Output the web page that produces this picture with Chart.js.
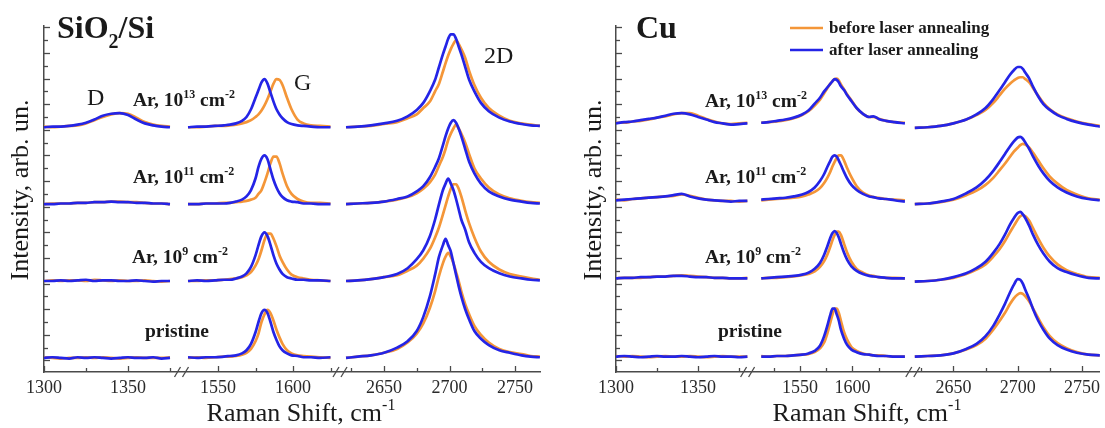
<!DOCTYPE html>
<html>
<head>
<meta charset="utf-8">
<script src="https://cdn.jsdelivr.net/npm/chart.js@4.4.0/dist/chart.umd.min.js"></script>
<style>
  html, body { margin: 0; padding: 0; background: #fff; }
  #wrap { position: relative; width: 1105px; height: 428px; overflow: hidden; }
  #siChart { position: absolute; left: 0; top: 0; }
  #cuChart { position: absolute; left: 560px; top: 0; }
</style>
</head>
<body>
<div id="wrap">
  <canvas id="siChart" width="560" height="428"></canvas>
  <canvas id="cuChart" width="545" height="428"></canvas>
</div>
<script>
// --- data (intensity above each trace's baseline) ---
// sample order: pristine, Ar 10^9, Ar 10^11, Ar 10^13
const seriesNames = ['before laser annealing', 'after laser annealing'];
const seriesColors = ['#F49638', '#2424E6'];

// SiO2/Si panel
const siWnD = [1300, 1305, 1310, 1315, 1320, 1325, 1330, 1335, 1340, 1345, 1350, 1355, 1360, 1365, 1370, 1375];
const siWnG = [1530, 1536, 1542, 1548, 1554, 1558, 1562, 1566, 1569, 1572, 1575, 1577, 1579, 1581, 1583, 1585, 1587, 1589, 1591, 1593, 1596, 1599, 1603, 1607, 1612, 1618, 1625];
const siWn2D = [2621, 2630, 2640, 2650, 2660, 2668, 2675, 2680, 2685, 2689, 2692, 2695, 2697, 2699, 2701, 2703, 2705, 2707, 2709, 2712, 2715, 2719, 2724, 2730, 2738, 2746, 2755, 2762, 2769];

const siBeforeD = [
  [0.05, 0, -0.05, 0, 0, 0.05, 0, 0.05, 0, -0.05, 0, 0.05, 0, 0, 0, 0.05],
  [0, 0.05, 0, 0.05, 0.05, 0, 0.1, 0.05, 0, 0.05, 0, 0, 0.05, 0, -0.05, 0],
  [0, 0.05, 0.05, 0.05, 0.1, 0.1, 0.15, 0.15, 0.2, 0.2, 0.15, 0.15, 0.1, 0.05, 0.05, 0],
  [0.05, 0, 0.05, 0.1, 0.15, 0.3, 0.55, 0.8, 1.0, 1.1, 1.05, 0.75, 0.4, 0.2, 0.1, 0.05]
];
const siAfterD = [
  [0, 0.05, 0, -0.05, 0.05, 0, 0.05, 0, -0.05, 0, 0.05, 0, 0, 0.05, -0.05, 0],
  [0, 0, 0.05, 0, 0.05, 0.1, 0, 0.05, 0.05, 0, 0, 0.05, 0, -0.05, 0, 0],
  [0, 0, 0.05, 0.05, 0.1, 0.1, 0.15, 0.15, 0.2, 0.15, 0.15, 0.1, 0.1, 0.05, 0.05, 0],
  [0, 0.05, 0.05, 0.1, 0.2, 0.35, 0.6, 0.9, 1.05, 1.1, 0.95, 0.6, 0.3, 0.15, 0.05, 0]
];
const siBeforeG = [
  [0, 0.05, 0, 0.05, 0.1, 0.1, 0.15, 0.25, 0.4, 0.7, 1.3, 1.9, 2.8, 3.4, 3.75, 3.5, 2.9, 2.2, 1.6, 1.1, 0.6, 0.35, 0.2, 0.15, 0.1, 0.05, 0],
  [0, 0, 0.05, 0.05, 0.1, 0.15, 0.2, 0.3, 0.45, 0.7, 1.2, 1.7, 2.4, 3.2, 3.7, 3.7, 3.3, 2.7, 2.0, 1.5, 0.9, 0.5, 0.3, 0.2, 0.1, 0.05, 0],
  [0, 0, 0.05, 0.05, 0.1, 0.1, 0.15, 0.2, 0.25, 0.35, 0.5, 0.8, 1.1, 1.7, 2.4, 3.2, 3.7, 3.7, 3.2, 2.4, 1.4, 0.8, 0.4, 0.2, 0.1, 0.1, 0.05],
  [0, 0, 0.05, 0.1, 0.1, 0.15, 0.2, 0.3, 0.4, 0.55, 0.8, 1.0, 1.3, 1.7, 2.2, 2.8, 3.4, 3.75, 3.7, 3.3, 2.3, 1.4, 0.6, 0.3, 0.15, 0.1, 0.05]
];
const siAfterG = [
  [0.05, 0, 0.05, 0.05, 0.1, 0.15, 0.2, 0.35, 0.6, 1.1, 2.0, 2.8, 3.5, 3.75, 3.5, 2.8, 2.0, 1.4, 0.9, 0.6, 0.35, 0.2, 0.15, 0.05, 0.05, 0, 0.05],
  [0, 0.05, 0, 0.05, 0.1, 0.1, 0.2, 0.35, 0.6, 1.1, 2.0, 2.8, 3.5, 3.8, 3.5, 2.8, 2.0, 1.35, 0.9, 0.55, 0.3, 0.2, 0.1, 0.1, 0.05, 0.05, 0],
  [0, 0, 0.05, 0.05, 0.05, 0.1, 0.2, 0.35, 0.6, 1.1, 2.0, 2.9, 3.55, 3.8, 3.5, 2.7, 1.9, 1.3, 0.85, 0.55, 0.3, 0.2, 0.15, 0.05, 0.05, 0, 0],
  [0, 0.05, 0.05, 0.1, 0.15, 0.2, 0.3, 0.5, 0.8, 1.4, 2.3, 2.9, 3.5, 3.75, 3.4, 2.7, 2.0, 1.4, 1.0, 0.7, 0.4, 0.25, 0.15, 0.1, 0.05, 0, 0]
];
const siBefore2D = [
  [0, 0.1, 0.2, 0.4, 0.7, 1.2, 1.9, 2.7, 3.9, 5.2, 6.4, 7.4, 7.9, 8.2, 7.9, 7.4, 6.7, 6.0, 5.2, 4.2, 3.4, 2.5, 1.8, 1.2, 0.7, 0.45, 0.3, 0.15, 0.1],
  [0, 0.05, 0.15, 0.3, 0.45, 0.8, 1.2, 1.75, 2.5, 3.4, 4.2, 5.2, 5.9, 6.6, 7.2, 7.55, 7.55, 7.2, 6.6, 5.5, 4.5, 3.4, 2.3, 1.5, 0.9, 0.55, 0.35, 0.2, 0.1],
  [0, 0.05, 0.1, 0.2, 0.35, 0.55, 0.85, 1.2, 1.7, 2.3, 3.0, 3.7, 4.3, 5.0, 5.5, 5.9, 6.2, 5.9, 5.5, 4.8, 3.9, 2.8, 2.0, 1.3, 0.75, 0.45, 0.25, 0.15, 0.1],
  [0, 0.05, 0.1, 0.25, 0.4, 0.7, 1.0, 1.5, 2.0, 2.8, 3.4, 4.35, 5.0, 5.6, 6.1, 6.5, 6.8, 6.5, 6.1, 5.4, 4.4, 3.3, 2.3, 1.5, 0.9, 0.5, 0.3, 0.2, 0.1]
];
const siAfter2D = [
  [0, 0.1, 0.2, 0.4, 0.8, 1.3, 2.1, 3.2, 4.8, 6.5, 7.9, 8.8, 9.3, 8.8, 8.3, 7.4, 6.5, 5.6, 4.8, 3.8, 3.0, 2.1, 1.5, 1.0, 0.6, 0.4, 0.2, 0.1, 0.05],
  [0, 0.05, 0.15, 0.3, 0.55, 1.0, 1.7, 2.4, 3.5, 4.8, 6.0, 7.1, 7.6, 8.0, 7.6, 7.1, 6.4, 5.6, 4.8, 4.0, 3.0, 2.2, 1.5, 1.0, 0.6, 0.35, 0.2, 0.1, 0.05],
  [0, 0.05, 0.1, 0.2, 0.4, 0.6, 1.0, 1.4, 2.1, 2.9, 3.6, 4.6, 5.3, 5.9, 6.35, 6.55, 6.35, 5.9, 5.3, 4.3, 3.3, 2.4, 1.6, 1.0, 0.6, 0.35, 0.2, 0.1, 0.05],
  [0, 0.05, 0.15, 0.3, 0.5, 0.85, 1.35, 1.9, 2.8, 3.7, 4.7, 5.7, 6.3, 6.9, 7.25, 7.25, 6.9, 6.3, 5.7, 4.7, 3.7, 2.8, 1.9, 1.25, 0.75, 0.45, 0.25, 0.15, 0.1]
];
const siOffsets = [0.2, 6.2, 12.2, 18.2];

// Cu panel
const cuWnD = [1300, 1305, 1310, 1315, 1320, 1325, 1330, 1335, 1340, 1345, 1350, 1355, 1360, 1365, 1370, 1375, 1380];
const cuWnG = [1513, 1520, 1528, 1536, 1544, 1552, 1558, 1564, 1569, 1573, 1576, 1579, 1581, 1583, 1585, 1587, 1589, 1592, 1595, 1599, 1604, 1610, 1616, 1620, 1625, 1632, 1640, 1650];
const cuWn2D = [2620, 2630, 2640, 2650, 2660, 2668, 2675, 2681, 2686, 2690, 2694, 2697, 2700, 2702, 2704, 2706, 2709, 2712, 2716, 2720, 2725, 2731, 2738, 2746, 2755, 2764];

const cuBeforeD = [
  [0.05, 0, 0.05, 0, -0.05, 0, 0.05, 0, 0, 0.05, 0, -0.05, 0, 0.05, 0, 0, 0],
  [0, 0.05, 0.05, 0.05, 0.1, 0.15, 0.15, 0.2, 0.25, 0.2, 0.15, 0.1, 0.05, 0.05, 0, 0, 0.05],
  [0.05, 0, 0.1, 0.15, 0.2, 0.25, 0.3, 0.35, 0.45, 0.35, 0.2, 0.05, 0, -0.05, -0.05, -0.1, -0.05],
  [0.05, 0.05, 0.15, 0.2, 0.3, 0.45, 0.55, 0.7, 0.8, 0.8, 0.6, 0.35, 0.15, 0, -0.05, 0, 0.05]
];
const cuAfterD = [
  [0, 0.05, 0, -0.05, 0, 0.05, 0, 0, 0.05, 0, -0.05, 0, 0.05, 0, 0, -0.05, 0],
  [0, 0.05, 0.05, 0.1, 0.1, 0.15, 0.15, 0.2, 0.2, 0.15, 0.1, 0.1, 0.05, 0.05, 0, 0, 0],
  [0, 0.05, 0.1, 0.15, 0.2, 0.25, 0.3, 0.4, 0.5, 0.3, 0.15, 0.05, 0, -0.05, -0.1, -0.05, -0.05],
  [0, 0.1, 0.15, 0.25, 0.35, 0.45, 0.6, 0.75, 0.8, 0.7, 0.5, 0.3, 0.1, 0, -0.1, -0.05, 0]
];
const cuBeforeG = [
  [0.05, 0, 0.05, 0.05, 0.1, 0.15, 0.2, 0.35, 0.65, 1.1, 1.8, 2.7, 3.3, 3.75, 3.75, 3.4, 2.8, 1.9, 1.3, 0.75, 0.45, 0.25, 0.15, 0.1, 0.1, 0.05, 0, 0],
  [0, 0.05, 0.05, 0.1, 0.15, 0.25, 0.35, 0.55, 0.9, 1.35, 1.85, 2.5, 3.0, 3.4, 3.65, 3.65, 3.4, 2.7, 2.0, 1.3, 0.75, 0.45, 0.25, 0.2, 0.1, 0.05, 0.05, 0],
  [0, 0.05, 0.1, 0.15, 0.2, 0.3, 0.45, 0.65, 0.95, 1.35, 1.75, 2.25, 2.65, 3.0, 3.3, 3.5, 3.5, 3.1, 2.5, 1.8, 1.1, 0.6, 0.35, 0.25, 0.2, 0.1, 0.05, 0],
  [0.05, 0.1, 0.15, 0.25, 0.4, 0.65, 0.95, 1.4, 1.85, 2.35, 2.75, 3.1, 3.3, 3.45, 3.5, 3.35, 3.05, 2.65, 2.25, 1.8, 1.2, 0.75, 0.5, 0.5, 0.35, 0.2, 0.1, 0.05]
];
const cuAfterG = [
  [0, 0, 0.05, 0.05, 0.1, 0.15, 0.25, 0.45, 0.85, 1.6, 2.4, 3.3, 3.75, 3.75, 3.3, 2.8, 2.1, 1.4, 0.9, 0.55, 0.35, 0.2, 0.15, 0.1, 0.05, 0.05, 0, 0],
  [0, 0.05, 0.1, 0.15, 0.2, 0.3, 0.45, 0.75, 1.2, 1.85, 2.5, 3.2, 3.55, 3.7, 3.55, 3.2, 2.7, 2.0, 1.45, 0.95, 0.6, 0.35, 0.2, 0.15, 0.1, 0.05, 0, 0],
  [0.05, 0.1, 0.15, 0.2, 0.3, 0.45, 0.65, 1.0, 1.5, 2.05, 2.6, 3.1, 3.4, 3.5, 3.4, 3.1, 2.75, 2.2, 1.7, 1.2, 0.8, 0.5, 0.3, 0.25, 0.15, 0.1, 0, -0.1],
  [0.05, 0.1, 0.2, 0.3, 0.45, 0.7, 1.0, 1.55, 2.0, 2.5, 2.8, 3.1, 3.3, 3.45, 3.4, 3.2, 2.9, 2.6, 2.2, 1.75, 1.2, 0.75, 0.5, 0.55, 0.35, 0.2, 0.1, 0]
];
const cuBefore2D = [
  [0, 0.05, 0.1, 0.25, 0.55, 0.9, 1.4, 2.1, 2.8, 3.4, 4.1, 4.55, 4.85, 4.95, 4.9, 4.7, 4.3, 3.75, 3.0, 2.3, 1.6, 1.05, 0.65, 0.35, 0.15, 0.1],
  [-0.25, -0.2, -0.1, 0.05, 0.35, 0.7, 1.1, 1.7, 2.3, 2.9, 3.6, 4.1, 4.6, 4.85, 4.95, 4.85, 4.5, 3.9, 3.1, 2.4, 1.7, 1.1, 0.65, 0.35, 0.1, 0.05],
  [-0.3, -0.25, -0.15, 0.05, 0.4, 0.75, 1.2, 1.75, 2.35, 2.85, 3.4, 3.8, 4.1, 4.3, 4.4, 4.35, 4.1, 3.7, 3.1, 2.5, 1.85, 1.3, 0.8, 0.45, 0.15, 0.05],
  [-0.35, -0.3, -0.2, 0, 0.3, 0.65, 1.05, 1.6, 2.2, 2.7, 3.1, 3.35, 3.55, 3.6, 3.6, 3.45, 3.2, 2.75, 2.15, 1.6, 1.1, 0.7, 0.4, 0.15, -0.05, -0.2]
];
const cuAfter2D = [
  [0, 0.05, 0.1, 0.25, 0.6, 1.0, 1.6, 2.4, 3.3, 4.1, 5.0, 5.6, 6.05, 6.0, 5.7, 5.2, 4.5, 3.7, 2.8, 2.1, 1.4, 0.9, 0.55, 0.3, 0.15, 0.1],
  [-0.25, -0.2, -0.1, 0.1, 0.4, 0.8, 1.3, 2.0, 2.7, 3.4, 4.2, 4.7, 5.1, 5.2, 5.0, 4.7, 4.1, 3.4, 2.6, 1.95, 1.3, 0.8, 0.5, 0.25, 0.05, 0],
  [-0.3, -0.25, -0.1, 0.1, 0.55, 1.0, 1.6, 2.3, 3.0, 3.6, 4.2, 4.6, 4.9, 4.95, 4.8, 4.5, 4.0, 3.4, 2.7, 2.1, 1.5, 1.0, 0.6, 0.3, 0.1, 0],
  [-0.35, -0.3, -0.2, 0, 0.3, 0.7, 1.2, 1.9, 2.6, 3.2, 3.8, 4.15, 4.4, 4.4, 4.25, 3.95, 3.5, 2.85, 2.1, 1.5, 1.05, 0.65, 0.35, 0.1, -0.1, -0.25]
];
const cuOffsets = [0.3, 6.4, 12.5, 18.5];

// tick values per axis segment
const majorTicks = [[1300, 1350], [1550, 1600], [2650, 2700, 2750]];
const siMinorTicks = [[1325, 1375], [1575, 1625], [2625, 2675, 2725]];
const cuMinorTicks = [[1325, 1375], [1525, 1575, 1625], [2625, 2675, 2725]];

const sampleLabels = [
  [['pristine', '']],
  [['Ar, 10', ''], ['9', 'sup'], [' cm', ''], ['-2', 'sup']],
  [['Ar, 10', ''], ['11', 'sup'], [' cm', ''], ['-2', 'sup']],
  [['Ar, 10', ''], ['13', 'sup'], [' cm', ''], ['-2', 'sup']]
];

// --- broken x axis: each segment gets its own stretch of one linear scale ---
const siSegs = [{ ref: 1300, at: 0, k: 1.68 }, { ref: 1550, at: 174, k: 1.5 }, { ref: 2650, at: 340, k: 1.31 }];
const cuSegs = [{ ref: 1300, at: 0, k: 1.66 }, { ref: 1550, at: 186, k: 1.06 }, { ref: 2650, at: 341, k: 1.3 }];
const toAxis = (segs, j, wn) => segs[j].at + (wn - segs[j].ref) * segs[j].k;

const SERIF = '"Liberation Serif", "Times New Roman", serif';
Chart.defaults.font.family = SERIF;

function buildPoints(segs, grids, blocks, i, offset) {
  const pts = [];
  grids.forEach((grid, j) => {
    if (j) pts.push({ x: toAxis(segs, j, grid[0]) - 0.5, y: null });
    grid.forEach((wn, k) => pts.push({ x: toAxis(segs, j, wn), y: blocks[j][i][k] + offset }));
  });
  return pts;
}

function makeDatasets(segs, grids, before, after, offsets) {
  const sets = [];
  offsets.forEach((off, i) => {
    [before, after].forEach((blocks, s) => {
      sets.push({
        label: seriesNames[s],
        data: buildPoints(segs, grids, blocks, i, off),
        borderColor: seriesColors[s],
        borderWidth: 2.7,
        pointRadius: 0,
        cubicInterpolationMode: 'monotone',
        spanGaps: false,
        order: s === 1 ? 0 : 1
      });
    });
  });
  return sets;
}

// text with superscript / subscript pieces
function richText(ctx, parts, x, y, size, weight, align) {
  const fontFor = k => `${weight} ${k ? Math.round(size * 0.62) : size}px ${SERIF}`;
  let w = 0;
  parts.forEach(([t, k]) => { ctx.font = fontFor(k); w += ctx.measureText(t).width; });
  let cx = align === 'center' ? x - w / 2 : x;
  ctx.textAlign = 'left';
  ctx.textBaseline = 'alphabetic';
  parts.forEach(([t, k]) => {
    ctx.font = fontFor(k);
    const dy = k === 'sup' ? -size * 0.42 : (k === 'sub' ? size * 0.32 : 0);
    ctx.fillText(t, cx, y + dy);
    cx += ctx.measureText(t).width;
  });
}

const decor = {
  id: 'decor',
  afterDraw(chart, args, o) {
    const { ctx, chartArea: a, scales: { x, y } } = chart;
    ctx.save();
    ctx.strokeStyle = '#4a4a4a';
    ctx.lineWidth = 1.3;
    // inward ticks, y axis
    for (let v = Math.ceil(y.min); v <= y.max; v++) {
      const py = Math.round(y.getPixelForValue(v)) + 0.5;
      ctx.beginPath(); ctx.moveTo(a.left, py); ctx.lineTo(a.left + (v % 2 ? 4 : 6), py); ctx.stroke();
    }
    // inward ticks, x axis
    const xTick = (list, len) => list.forEach((vals, j) => vals.forEach(wn => {
      const px = Math.round(x.getPixelForValue(toAxis(o.segs, j, wn))) + 0.5;
      ctx.beginPath(); ctx.moveTo(px, a.bottom); ctx.lineTo(px, a.bottom - len); ctx.stroke();
    }));
    xTick(majorTicks, 6);
    xTick(o.minor, 4);
    // axis break marks
    o.breaks.forEach(b => {
      const px = x.getPixelForValue(b);
      [-4, 4].forEach(d => {
        ctx.beginPath(); ctx.moveTo(px + d - 3, a.bottom + 5); ctx.lineTo(px + d + 3, a.bottom - 5); ctx.stroke();
      });
    });
    // texts
    ctx.fillStyle = '#1a1a1a';
    richText(ctx, o.title, o.titleAt[0], o.titleAt[1], 32, 'bold', 'left');
    (o.peaks || []).forEach(p => richText(ctx, [[p[0], '']], p[1], p[2], 24, 'normal', 'left'));
    sampleLabels.forEach((parts, i) => richText(ctx, parts, o.labelAt[i][0], o.labelAt[i][1], 19.5, 'bold', 'left'));
    richText(ctx, [['Raman Shift, cm', ''], ['-1', 'sup']], o.xTitleAt[0], o.xTitleAt[1], 26, 'normal', 'center');
    ctx.save();
    ctx.translate(o.yTitleAt[0], o.yTitleAt[1]);
    ctx.rotate(-Math.PI / 2);
    richText(ctx, [['Intensity, arb. un.', '']], 0, 0, 26, 'normal', 'center');
    ctx.restore();
    if (o.legendAt) {
      seriesNames.forEach((name, s) => {
        const ly = o.legendAt[1] + s * 22;
        ctx.strokeStyle = seriesColors[s];
        ctx.lineWidth = 2.7;
        ctx.beginPath(); ctx.moveTo(o.legendAt[0], ly); ctx.lineTo(o.legendAt[0] + 33, ly); ctx.stroke();
        ctx.fillStyle = '#1a1a1a';
        richText(ctx, [[name, '']], o.legendAt[0] + 39, ly + 5, 17, 'bold', 'left');
      });
    }
    ctx.restore();
  }
};

function makeChart(id, segs, xMax, yWidth, padRight, grids, before, after, offsets, deco) {
  const labelVals = [];
  majorTicks.forEach((vals, j) => vals.forEach(wn => labelVals.push([toAxis(segs, j, wn), String(wn)])));
  return new Chart(document.getElementById(id), {
    type: 'line',
    data: { datasets: makeDatasets(segs, grids, before, after, offsets) },
    options: {
      responsive: false,
      animation: false,
      layout: { padding: { top: 26, right: padRight, left: 0, bottom: 0 } },
      plugins: { legend: { display: false }, tooltip: { enabled: false }, decor: Object.assign({ segs }, deco) },
      scales: {
        x: {
          type: 'linear', min: 0, max: xMax,
          grid: { display: false, drawTicks: false },
          border: { display: true, color: '#4a4a4a', width: 1.5 },
          ticks: {
            autoSkip: false, maxRotation: 0, padding: 5, color: '#2a2a2a',
            font: { size: 18, family: SERIF },
            callback: (v, i) => labelVals[i] ? labelVals[i][1] : ''
          },
          afterBuildTicks: s => { s.ticks = labelVals.map(l => ({ value: l[0] })); },
          afterFit: s => { s.height = 56; }
        },
        y: {
          type: 'linear', min: -0.9, max: 26.1,
          grid: { display: false, drawTicks: false },
          border: { display: true, color: '#4a4a4a', width: 1.5 },
          ticks: { display: false },
          afterFit: s => { s.width = yWidth; }
        }
      }
    },
    plugins: [decor]
  });
}

makeChart('siChart', siSegs, 496, 44, 20, [siWnD, siWnG, siWn2D],
  [siBeforeD, siBeforeG, siBefore2D], [siAfterD, siAfterG, siAfter2D], siOffsets, {
    minor: siMinorTicks,
    breaks: [137.5, 296],
    title: [['SiO', ''], ['2', 'sub'], ['/Si', '']],
    titleAt: [57, 38],
    peaks: [['D', 87, 105], ['G', 294, 90], ['2D', 484, 63]],
    labelAt: [[145, 337], [132, 263], [133, 183], [133, 106]],
    xTitleAt: [301, 421],
    yTitleAt: [28, 190]
  });

makeChart('cuChart', cuSegs, 489, 56, 0, [cuWnD, cuWnG, cuWn2D],
  [cuBeforeD, cuBeforeG, cuBefore2D], [cuAfterD, cuAfterG, cuAfter2D], cuOffsets, {
    minor: cuMinorTicks,
    breaks: [133, 300],
    title: [['Cu', '']],
    titleAt: [76, 38],
    labelAt: [[158, 337], [145, 263], [145, 183], [145, 107]],
    xTitleAt: [307, 421],
    yTitleAt: [41, 190],
    legendAt: [230, 28]
  });
</script>
</body>
</html>
